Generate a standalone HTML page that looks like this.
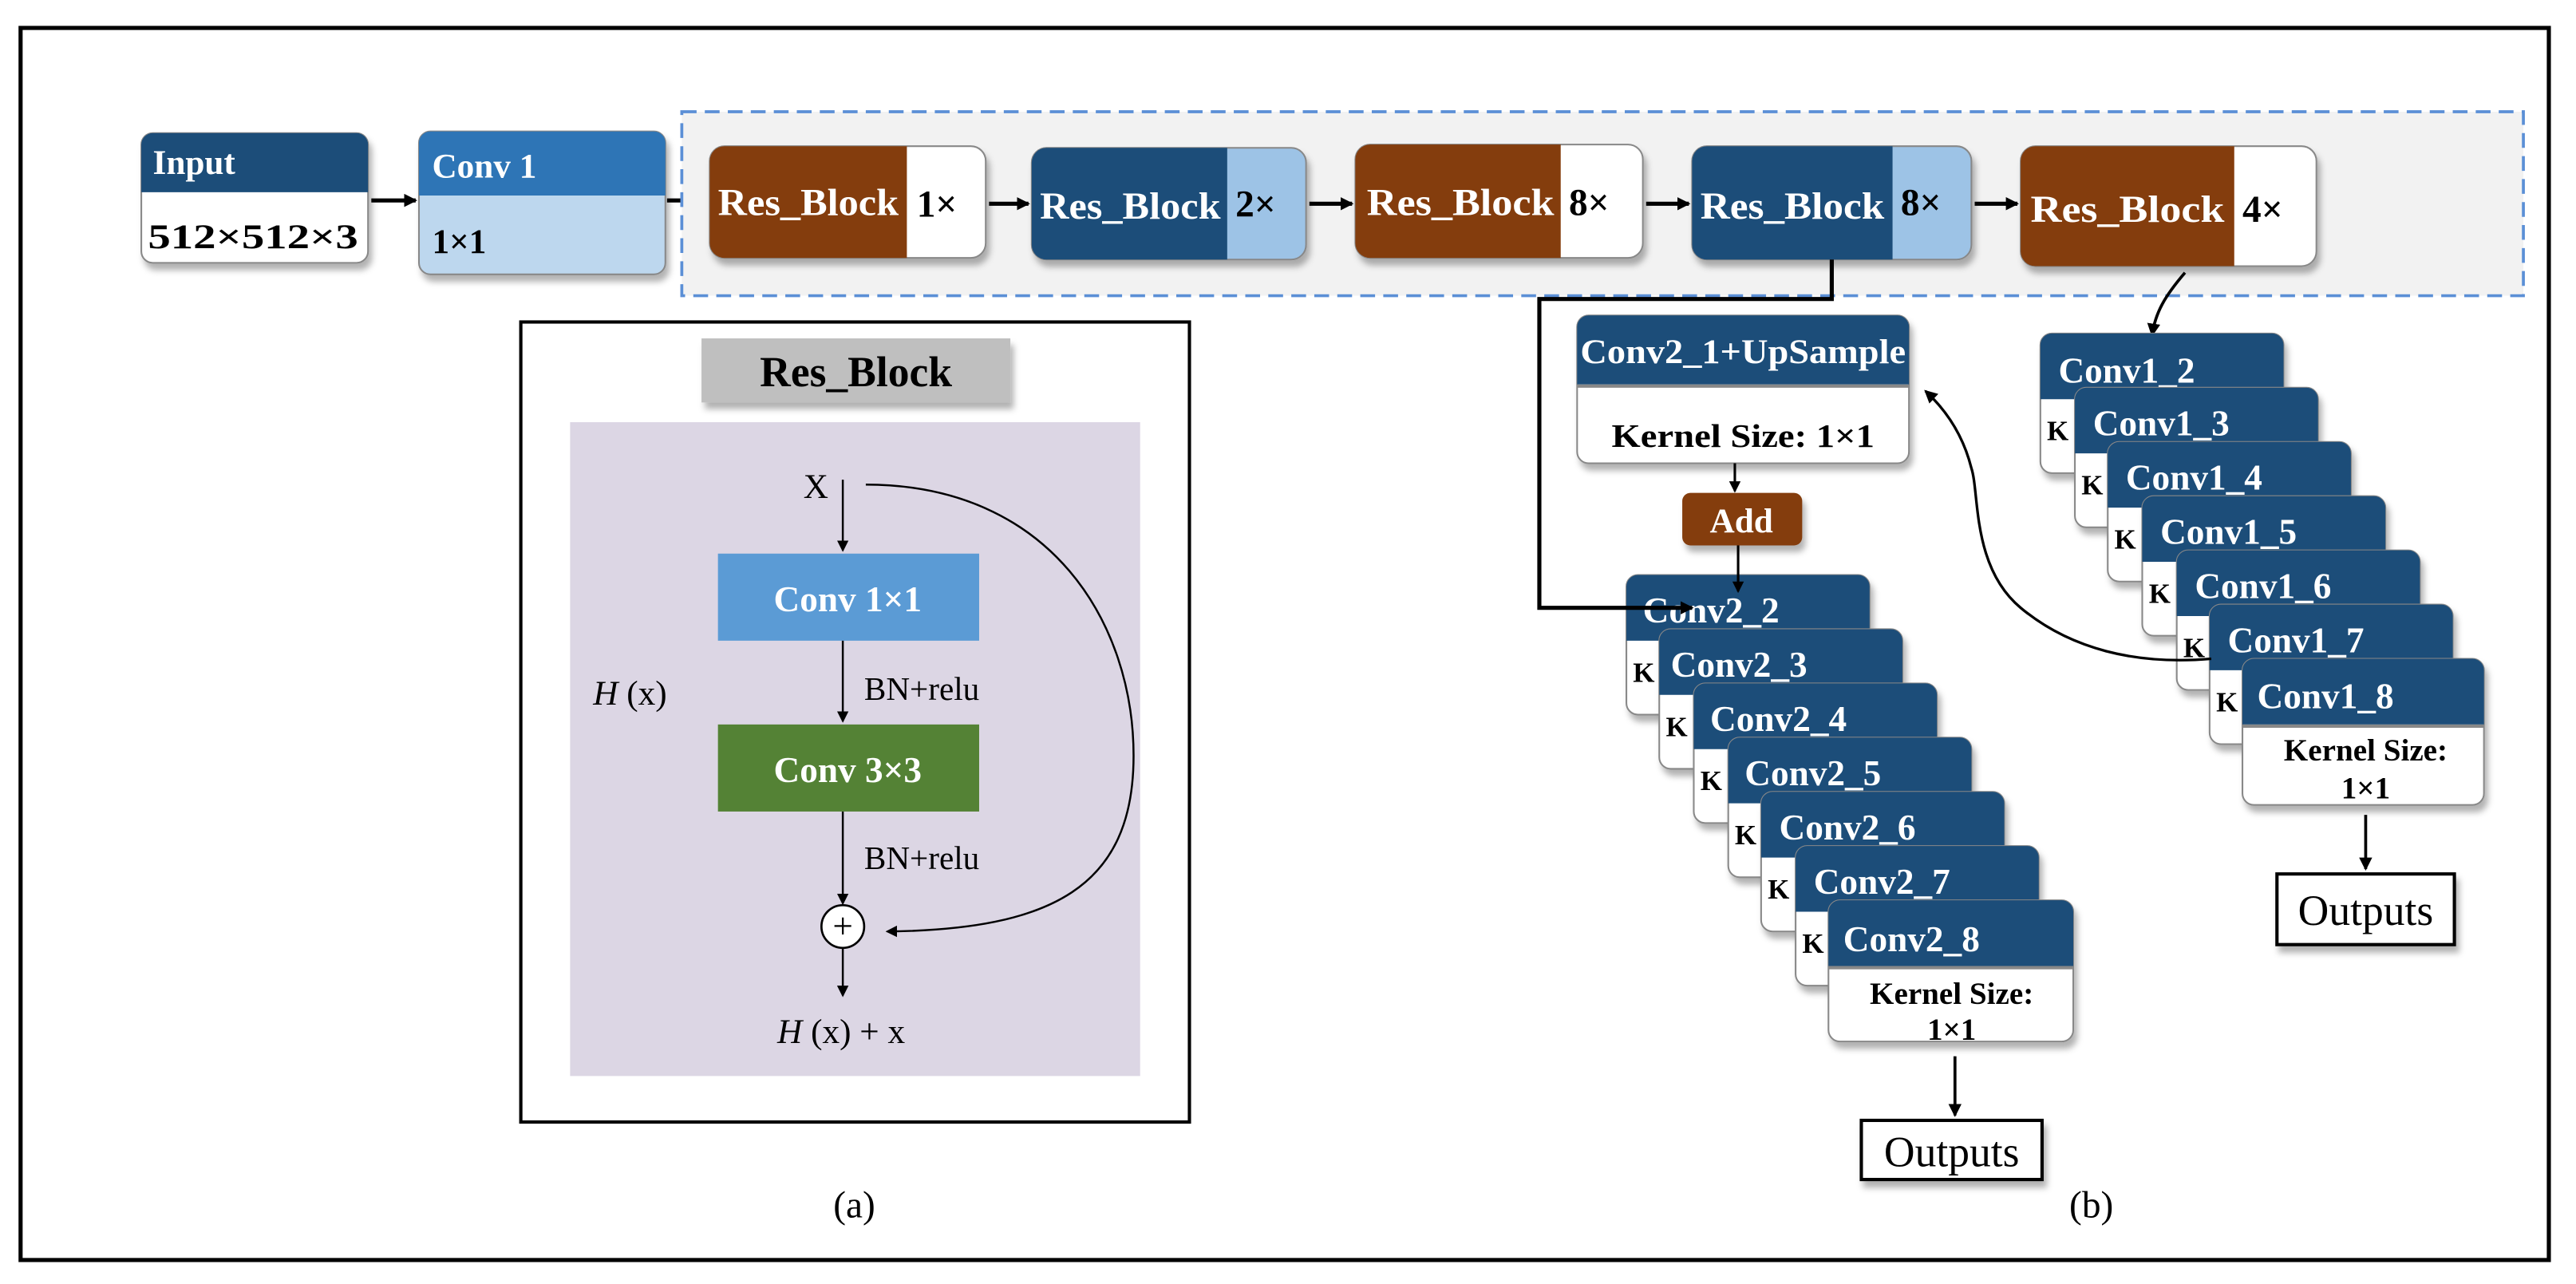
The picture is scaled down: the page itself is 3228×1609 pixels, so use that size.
<!DOCTYPE html>
<html><head><meta charset="utf-8"><style>
html,body{margin:0;padding:0;background:#fff;}
svg{display:block;}
text{font-family:"Liberation Serif",serif;}
</style></head><body>
<svg width="3228" height="1609" viewBox="0 0 1568 781.6" xmlns="http://www.w3.org/2000/svg">
<defs>
<marker id="ah" markerWidth="8" markerHeight="8" refX="7" refY="4" orient="auto" markerUnits="userSpaceOnUse"><path d="M0,0 L8,4 L0,8 z" fill="#000"/></marker>
<marker id="as" markerWidth="7" markerHeight="7" refX="6" refY="3.5" orient="auto" markerUnits="userSpaceOnUse"><path d="M0,0 L7,3.5 L0,7 z" fill="#000"/></marker>
<filter id="sh" x="-10%" y="-10%" width="130%" height="140%"><feDropShadow dx="2" dy="4" stdDeviation="2" flood-color="#000" flood-opacity="0.3"/></filter>
</defs>
<rect x="12.5" y="17" width="1539" height="750" fill="none" stroke="#000" stroke-width="2.5"/>

<!-- Input -->
<g filter="url(#sh)">
<rect x="86" y="81" width="138" height="79" rx="7" fill="#fff" stroke="#888" stroke-width="1"/>
<path d="M86,117 V88 a7,7 0 0 1 7,-7 H217 a7,7 0 0 1 7,7 V117 z" fill="#1f4e79"/>
</g>
<text x="93" y="106" font-size="21" font-weight="bold" fill="#fff">Input</text>
<text x="90" y="151" font-size="21" font-weight="bold" textLength="128" lengthAdjust="spacingAndGlyphs">512×512×3</text>
<line x1="226" y1="122" x2="253" y2="122" stroke="#000" stroke-width="2.5" marker-end="url(#ah)"/>
<!-- Conv1 -->
<g filter="url(#sh)">
<rect x="255" y="80" width="150" height="87" rx="7" fill="#bdd7ee" stroke="#888" stroke-width="1"/>
<path d="M255,119 V87 a7,7 0 0 1 7,-7 H398 a7,7 0 0 1 7,7 V119 z" fill="#2e75b6"/>
</g>
<text x="263" y="108" font-size="21" font-weight="bold" fill="#fff">Conv 1</text>
<text x="263" y="154" font-size="21" font-weight="bold">1×1</text>
<line x1="406" y1="122" x2="430" y2="122" stroke="#000" stroke-width="2.5" marker-end="url(#ah)"/>

<!-- dashed container -->
<rect x="415" y="68" width="1121" height="112" fill="#f2f2f2" stroke="#5b8fd6" stroke-width="1.8" stroke-dasharray="9,5"/>

<!-- Res blocks -->
<g filter="url(#sh)">
<rect x="432" y="89" width="168" height="68" rx="9" fill="#fff" stroke="#888"/>
<path d="M552,89 H441 a9,9 0 0 0 -9,9 V148 a9,9 0 0 0 9,9 H552 z" fill="#843c0c"/>
<rect x="628" y="90" width="167" height="68" rx="9" fill="#9dc3e6" stroke="#888"/>
<path d="M747,90 H637 a9,9 0 0 0 -9,9 V149 a9,9 0 0 0 9,9 H747 z" fill="#1f4e79"/>
<rect x="825" y="88" width="175" height="69" rx="9" fill="#fff" stroke="#888"/>
<path d="M950,88 H834 a9,9 0 0 0 -9,9 V148 a9,9 0 0 0 9,9 H950 z" fill="#843c0c"/>
<rect x="1030" y="89" width="170" height="69" rx="9" fill="#9dc3e6" stroke="#888"/>
<path d="M1152,89 H1039 a9,9 0 0 0 -9,9 V149 a9,9 0 0 0 9,9 H1152 z" fill="#1f4e79"/>
<rect x="1230" y="89" width="180" height="73" rx="9" fill="#fff" stroke="#888"/>
<path d="M1360,89 H1239 a9,9 0 0 0 -9,9 V153 a9,9 0 0 0 9,9 H1360 z" fill="#843c0c"/>
</g>
<g font-size="23" font-weight="bold">
<text x="437" y="131" fill="#fff" textLength="110" lengthAdjust="spacingAndGlyphs">Res_Block</text><text x="558" y="132">1×</text>
<text x="633" y="133" fill="#fff" textLength="110" lengthAdjust="spacingAndGlyphs">Res_Block</text><text x="752" y="132">2×</text>
<text x="832" y="131" fill="#fff" textLength="114" lengthAdjust="spacingAndGlyphs">Res_Block</text><text x="955" y="131">8×</text>
<text x="1035" y="133" fill="#fff" textLength="112" lengthAdjust="spacingAndGlyphs">Res_Block</text><text x="1157" y="131">8×</text>
<text x="1236" y="135" fill="#fff" textLength="118" lengthAdjust="spacingAndGlyphs">Res_Block</text><text x="1365" y="135">4×</text>
</g>
<g stroke="#000" stroke-width="2.5">
<line x1="602" y1="124" x2="626" y2="124" marker-end="url(#ah)"/>
<line x1="797" y1="124" x2="823" y2="124" marker-end="url(#ah)"/>
<line x1="1002" y1="124" x2="1028" y2="124" marker-end="url(#ah)"/>
<line x1="1202" y1="124" x2="1228" y2="124" marker-end="url(#ah)"/>
</g>

<!-- Res_Block panel -->
<rect x="317" y="196" width="407" height="487" fill="#fff" stroke="#000" stroke-width="2"/>
<rect x="427" y="206" width="188" height="39" fill="#bfbfbf" filter="url(#sh)"/>
<text x="521" y="235" font-size="26" font-weight="bold" text-anchor="middle">Res_Block</text>
<rect x="347" y="257" width="347" height="398" fill="#dcd6e4"/>
<text x="489" y="303" font-size="21">X</text>
<line x1="513" y1="292" x2="513" y2="335" stroke="#000" stroke-width="1.2" marker-end="url(#as)"/>
<rect x="437" y="337" width="159" height="53" fill="#5b9bd5"/>
<text x="516" y="372" font-size="22" font-weight="bold" fill="#fff" text-anchor="middle">Conv 1×1</text>
<line x1="513" y1="390" x2="513" y2="439" stroke="#000" stroke-width="1.2" marker-end="url(#as)"/>
<text x="526" y="426" font-size="20">BN+relu</text>
<text x="361" y="429" font-size="21"><tspan font-style="italic">H</tspan> (x)</text>
<rect x="437" y="441" width="159" height="53" fill="#548235"/>
<text x="516" y="476" font-size="22" font-weight="bold" fill="#fff" text-anchor="middle">Conv 3×3</text>
<line x1="513" y1="494" x2="513" y2="550" stroke="#000" stroke-width="1.2" marker-end="url(#as)"/>
<text x="526" y="529" font-size="20">BN+relu</text>
<circle cx="513" cy="564" r="13" fill="#fff" stroke="#000" stroke-width="1.3"/>
<text x="513" y="571" font-size="22" text-anchor="middle">+</text>
<line x1="513" y1="577" x2="513" y2="606" stroke="#000" stroke-width="1.2" marker-end="url(#as)"/>
<text x="512" y="635" font-size="21" text-anchor="middle"><tspan font-style="italic">H</tspan> (x) + x</text>
<path d="M527,295 C640,295 690,380 690,460 C690,540 640,566 540,567" fill="none" stroke="#000" stroke-width="1.2" marker-end="url(#as)"/>
<text x="520" y="741" font-size="23" text-anchor="middle">(a)</text>
<text x="1273" y="741" font-size="23" text-anchor="middle">(b)</text>

<path d="M1330,166 C1318,180 1312,190 1310,204" fill="none" stroke="#000" stroke-width="1.8" marker-end="url(#ah)"/>

<!-- Conv2_1+UpSample -->
<g filter="url(#sh)">
<rect x="960" y="192" width="202" height="90" rx="7" fill="#fff" stroke="#888"/>
<path d="M960,234 V199 a7,7 0 0 1 7,-7 H1155 a7,7 0 0 1 7,7 V234 z" fill="#1f4e79"/>
</g>
<line x1="960" y1="235" x2="1162" y2="235" stroke="#888" stroke-width="2"/>
<text x="1061" y="221" font-size="21" font-weight="bold" fill="#fff" text-anchor="middle" textLength="198" lengthAdjust="spacingAndGlyphs">Conv2_1+UpSample</text>
<text x="1061" y="272" font-size="20" font-weight="bold" text-anchor="middle" textLength="160" lengthAdjust="spacingAndGlyphs">Kernel Size: 1×1</text>
<line x1="1056" y1="282" x2="1056" y2="299" stroke="#000" stroke-width="1.5" marker-end="url(#as)"/>
<rect x="1024" y="300" width="73" height="32" rx="5" fill="#843c0c" filter="url(#sh)"/>
<text x="1060" y="324" font-size="21" font-weight="bold" fill="#fff" text-anchor="middle">Add</text>

<!-- Conv2 stack -->
<g font-weight="bold">
<g filter="url(#sh)"><rect x="990" y="350" width="148" height="85" rx="7" fill="#fff" stroke="#888"/><path d="M990,390 V357 a7,7 0 0 1 7,-7 H1131 a7,7 0 0 1 7,7 V390 z" fill="#1f4e79"/></g>
<text x="994" y="415" font-size="17">K</text><text x="1000" y="379" font-size="22" fill="#fff">Conv2_2</text>
<g filter="url(#sh)"><rect x="1010" y="383" width="148" height="85" rx="7" fill="#fff" stroke="#888"/><path d="M1010,423 V390 a7,7 0 0 1 7,-7 H1151 a7,7 0 0 1 7,7 V423 z" fill="#1f4e79"/></g>
<text x="1014" y="448" font-size="17">K</text><text x="1017" y="412" font-size="22" fill="#fff">Conv2_3</text>
<g filter="url(#sh)"><rect x="1031" y="416" width="148" height="85" rx="7" fill="#fff" stroke="#888"/><path d="M1031,456 V423 a7,7 0 0 1 7,-7 H1172 a7,7 0 0 1 7,7 V456 z" fill="#1f4e79"/></g>
<text x="1035" y="481" font-size="17">K</text><text x="1041" y="445" font-size="22" fill="#fff">Conv2_4</text>
<g filter="url(#sh)"><rect x="1052" y="449" width="148" height="85" rx="7" fill="#fff" stroke="#888"/><path d="M1052,489 V456 a7,7 0 0 1 7,-7 H1193 a7,7 0 0 1 7,7 V489 z" fill="#1f4e79"/></g>
<text x="1056" y="514" font-size="17">K</text><text x="1062" y="478" font-size="22" fill="#fff">Conv2_5</text>
<g filter="url(#sh)"><rect x="1072" y="482" width="148" height="85" rx="7" fill="#fff" stroke="#888"/><path d="M1072,522 V489 a7,7 0 0 1 7,-7 H1213 a7,7 0 0 1 7,7 V522 z" fill="#1f4e79"/></g>
<text x="1076" y="547" font-size="17">K</text><text x="1083" y="511" font-size="22" fill="#fff">Conv2_6</text>
<g filter="url(#sh)"><rect x="1093" y="515" width="148" height="85" rx="7" fill="#fff" stroke="#888"/><path d="M1093,555 V522 a7,7 0 0 1 7,-7 H1234 a7,7 0 0 1 7,7 V555 z" fill="#1f4e79"/></g>
<text x="1097" y="580" font-size="17">K</text><text x="1104" y="544" font-size="22" fill="#fff">Conv2_7</text>
<g filter="url(#sh)"><rect x="1113" y="548" width="149" height="86" rx="7" fill="#fff" stroke="#888"/><path d="M1113,588 V555 a7,7 0 0 1 7,-7 H1255 a7,7 0 0 1 7,7 V588 z" fill="#1f4e79"/></g>
<line x1="1113" y1="589" x2="1262" y2="589" stroke="#888" stroke-width="2"/>
<text x="1122" y="579" font-size="22" fill="#fff">Conv2_8</text>
<text x="1188" y="611" font-size="19" text-anchor="middle">Kernel Size:</text>
<text x="1188" y="633" font-size="19" text-anchor="middle">1×1</text>
</g>
<!-- connectors on top -->
<line x1="1058" y1="332" x2="1058" y2="360" stroke="#000" stroke-width="1.5" marker-end="url(#as)"/>
<path d="M1115,158 V182 H937 V370 H1030" fill="none" stroke="#000" stroke-width="2.5" marker-end="url(#ah)"/>
<line x1="1190" y1="643" x2="1190" y2="679" stroke="#000" stroke-width="1.8" marker-end="url(#ah)"/>
<rect x="1133" y="682" width="110" height="36" fill="#fff" stroke="#000" stroke-width="2" filter="url(#sh)"/>
<text x="1188" y="710" font-size="26" text-anchor="middle">Outputs</text>

<!-- Conv1 stack -->
<g font-weight="bold">
<g filter="url(#sh)"><rect x="1242" y="203" width="148" height="85" rx="7" fill="#fff" stroke="#888"/><path d="M1242,243 V210 a7,7 0 0 1 7,-7 H1383 a7,7 0 0 1 7,7 V243 z" fill="#1f4e79"/></g>
<text x="1246" y="268" font-size="17">K</text><text x="1253" y="233" font-size="22" fill="#fff">Conv1_2</text>
<g filter="url(#sh)"><rect x="1263" y="236" width="148" height="85" rx="7" fill="#fff" stroke="#888"/><path d="M1263,276 V243 a7,7 0 0 1 7,-7 H1404 a7,7 0 0 1 7,7 V276 z" fill="#1f4e79"/></g>
<text x="1267" y="301" font-size="17">K</text><text x="1274" y="265" font-size="22" fill="#fff">Conv1_3</text>
<g filter="url(#sh)"><rect x="1283" y="269" width="148" height="85" rx="7" fill="#fff" stroke="#888"/><path d="M1283,309 V276 a7,7 0 0 1 7,-7 H1424 a7,7 0 0 1 7,7 V309 z" fill="#1f4e79"/></g>
<text x="1287" y="334" font-size="17">K</text><text x="1294" y="298" font-size="22" fill="#fff">Conv1_4</text>
<g filter="url(#sh)"><rect x="1304" y="302" width="148" height="85" rx="7" fill="#fff" stroke="#888"/><path d="M1304,342 V309 a7,7 0 0 1 7,-7 H1445 a7,7 0 0 1 7,7 V342 z" fill="#1f4e79"/></g>
<text x="1308" y="367" font-size="17">K</text><text x="1315" y="331" font-size="22" fill="#fff">Conv1_5</text>
<g filter="url(#sh)"><rect x="1325" y="335" width="148" height="85" rx="7" fill="#fff" stroke="#888"/><path d="M1325,375 V342 a7,7 0 0 1 7,-7 H1466 a7,7 0 0 1 7,7 V375 z" fill="#1f4e79"/></g>
<text x="1329" y="400" font-size="17">K</text><text x="1336" y="364" font-size="22" fill="#fff">Conv1_6</text>
<g filter="url(#sh)"><rect x="1345" y="368" width="148" height="85" rx="7" fill="#fff" stroke="#888"/><path d="M1345,408 V375 a7,7 0 0 1 7,-7 H1486 a7,7 0 0 1 7,7 V408 z" fill="#1f4e79"/></g>
<text x="1349" y="433" font-size="17">K</text><text x="1356" y="397" font-size="22" fill="#fff">Conv1_7</text>
<g filter="url(#sh)"><rect x="1365" y="401" width="147" height="89" rx="7" fill="#fff" stroke="#888"/><path d="M1365,441 V408 a7,7 0 0 1 7,-7 H1505 a7,7 0 0 1 7,7 V441 z" fill="#1f4e79"/></g>
<line x1="1365" y1="442" x2="1512" y2="442" stroke="#888" stroke-width="2"/>
<text x="1374" y="431" font-size="22" fill="#fff">Conv1_8</text>
<text x="1440" y="463" font-size="19" text-anchor="middle">Kernel Size:</text>
<text x="1440" y="486" font-size="19" text-anchor="middle">1×1</text>
</g>
<line x1="1440" y1="496" x2="1440" y2="529" stroke="#000" stroke-width="1.8" marker-end="url(#ah)"/>
<rect x="1386" y="532" width="108" height="43" fill="#fff" stroke="#000" stroke-width="2" filter="url(#sh)"/>
<text x="1440" y="563" font-size="26" text-anchor="middle">Outputs</text>

<!-- curved feedback -->
<path d="M1346,401 C1300,405 1260,395 1230,370 C1200,345 1205,300 1200,285 C1195,265 1185,250 1172,238" fill="none" stroke="#000" stroke-width="1.6" marker-end="url(#ah)"/>
</svg>
</body></html>
